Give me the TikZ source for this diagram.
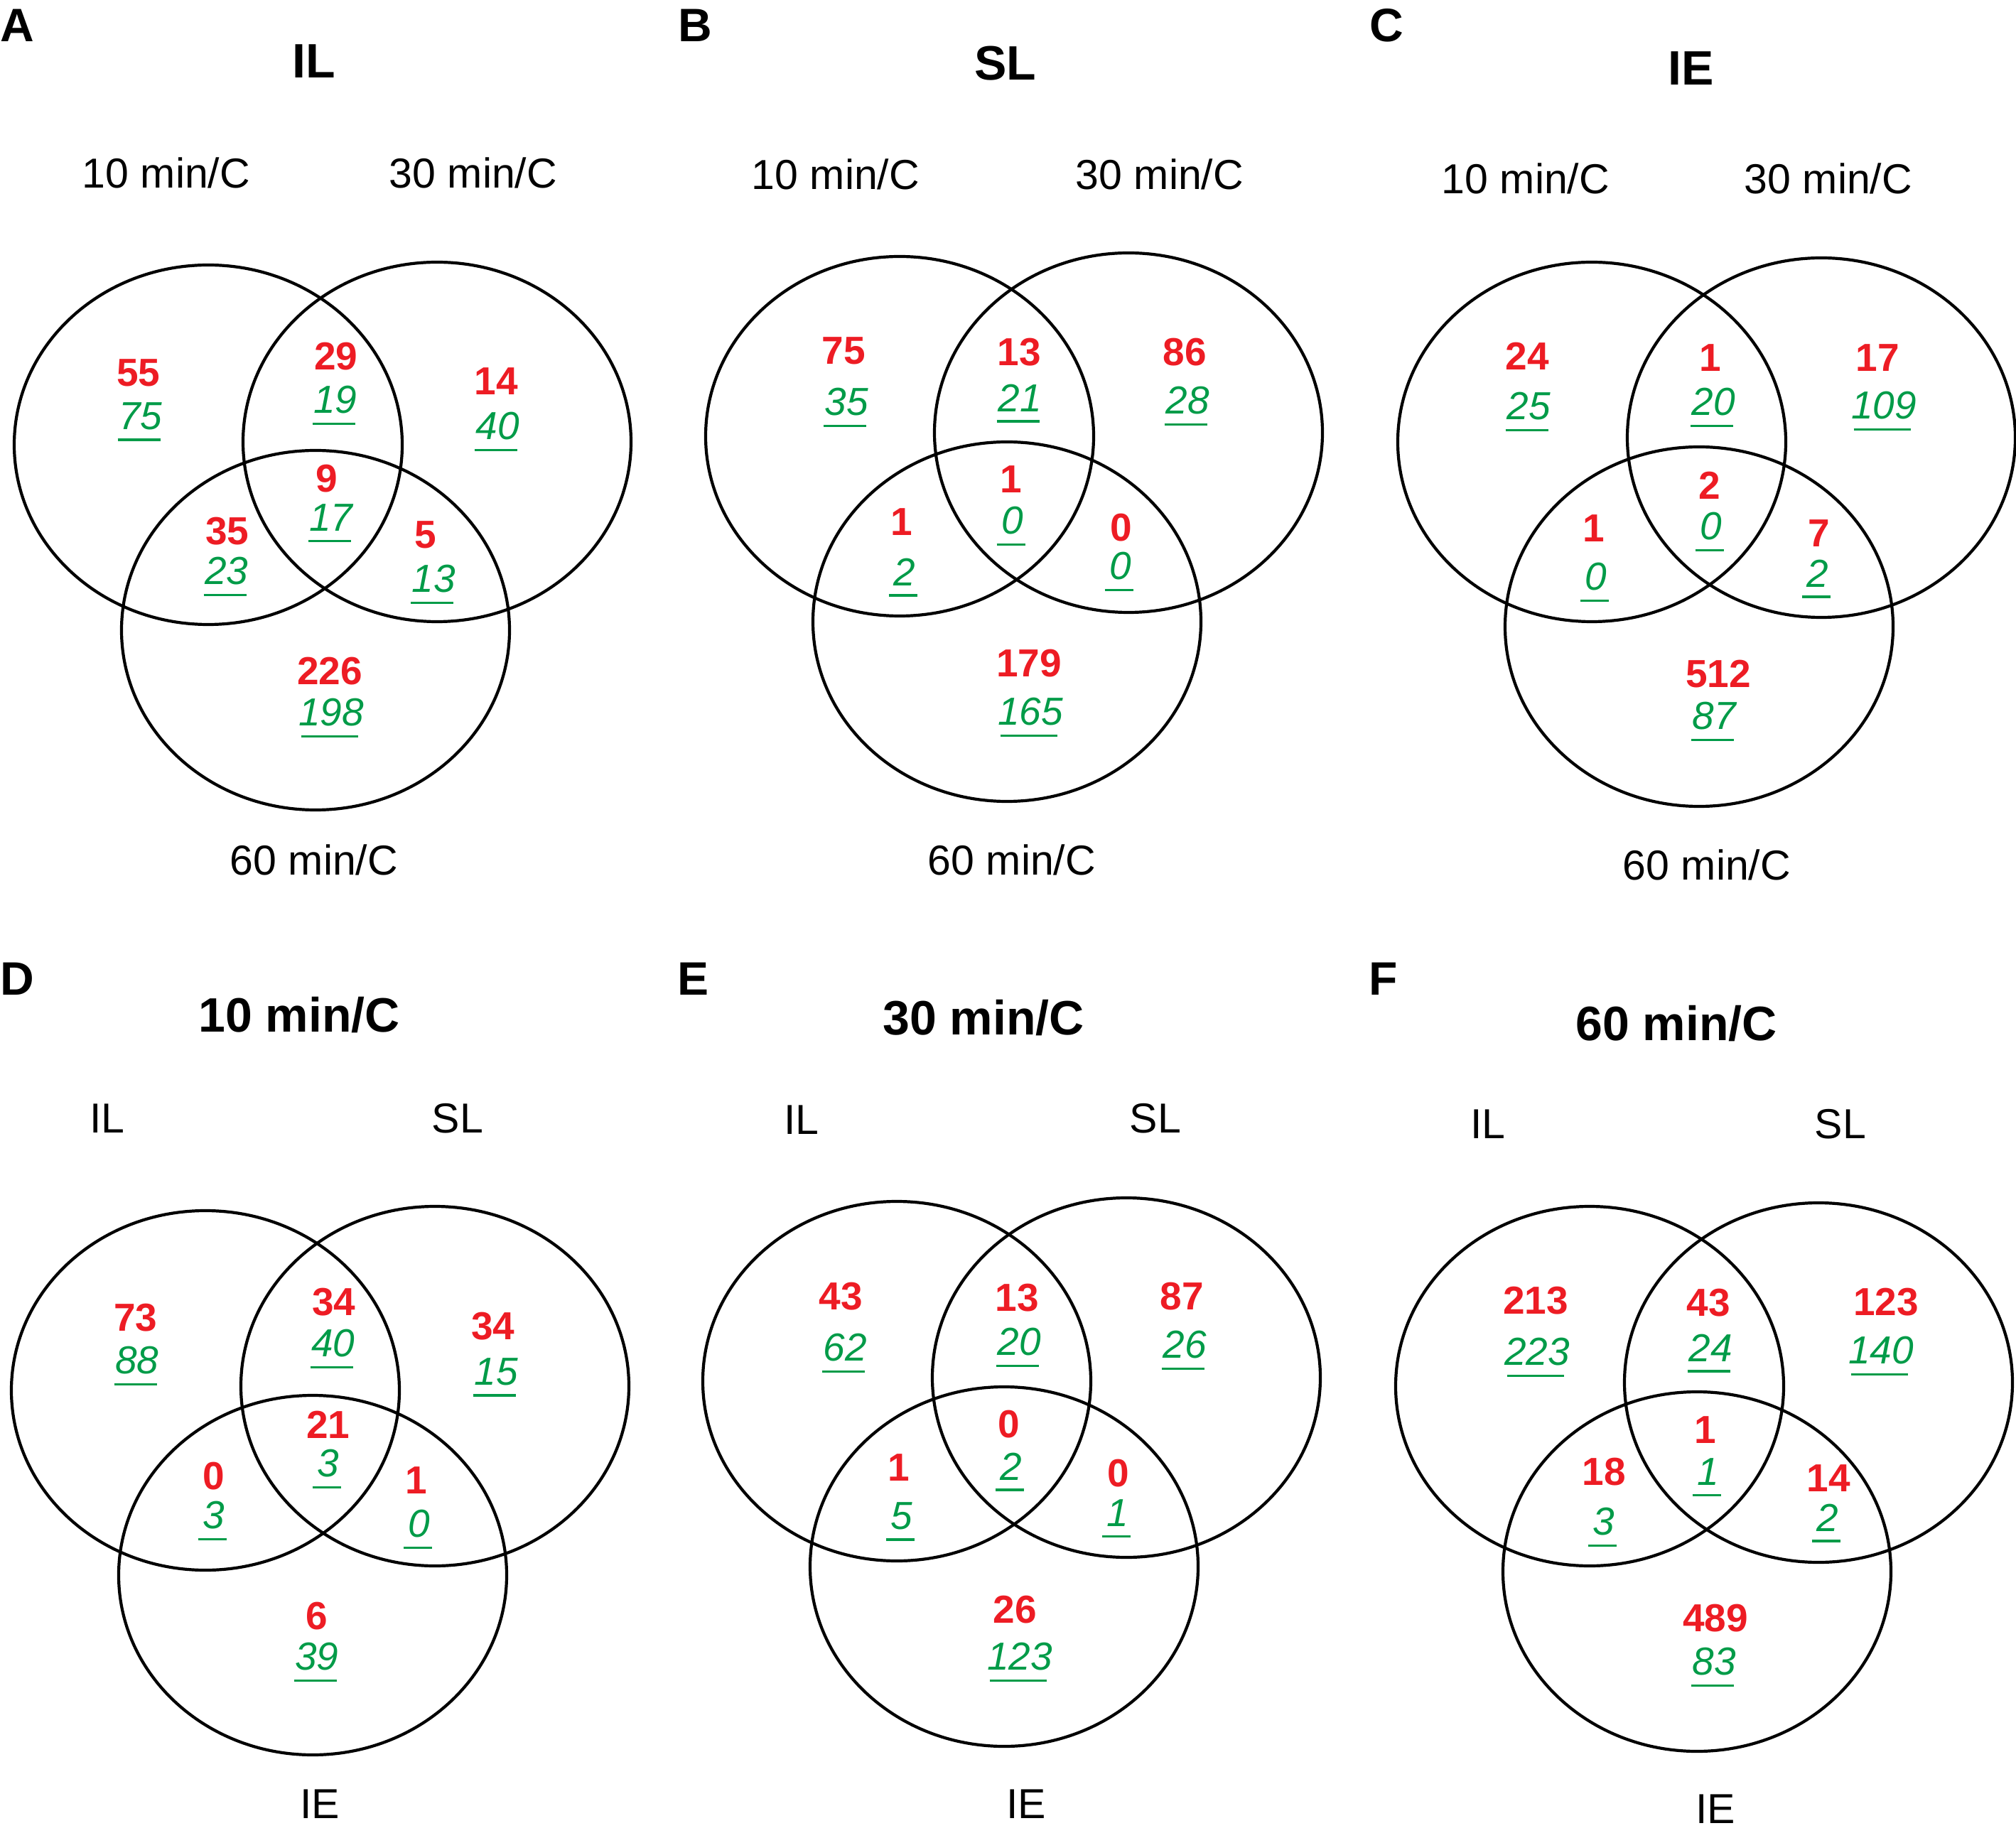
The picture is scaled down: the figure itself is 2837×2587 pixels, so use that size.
\documentclass[tikz,border=0pt]{standalone}
\usepackage{fontspec}
\setmainfont{Liberation Sans}
\usetikzlibrary{calc}
\definecolor{vred}{RGB}{237,28,36}
\definecolor{vgreen}{RGB}{0,155,72}
\tikzset{
  rnum/.style={inner sep=0pt, text=vred, font=\fontsize{13.75}{16}\selectfont\bfseries},
  gnum/.style={inner sep=0pt, text=vgreen, font=\fontsize{13.75}{16}\selectfont\itshape},
  lbl/.style={inner sep=0pt, font=\fontsize{14.75}{17}\selectfont},
  ttl/.style={inner sep=0pt, font=\fontsize{17}{20}\selectfont\bfseries},
  letter/.style={inner sep=0pt, anchor=west, font=\fontsize{16.5}{19}\selectfont\bfseries},
  venn/.style={line width=1.05pt, x radius=68.25pt, y radius=63.25pt},
  ul/.style={draw=vgreen, line width=0.85pt}
}
\newcommand\vnum[5]{%
  \node[rnum] (#1r) at (#2) {#3};
  \node[gnum] (#1g) at (#4) {#5};
  \draw[ul] let \p1=(#1g.west), \p2=(#1g.east), \p3=(#1g.south),
    \n1={0.325*(\x2-\x1)+2.5pt} in
    (\x3-\n1-0.5pt,\y3-3.25pt) -- (\x3+\n1-0.5pt,\y3-3.25pt);
}
\begin{document}
\begin{tikzpicture}[x=0.25pt, y=-0.25pt]
\useasboundingbox (0,0) rectangle (2837,2587);

% ---------- Panel A ----------
\node[letter] (lA) at (0,36) {A};
\node[ttl] (tA) at (442,86) {IL};
\node[lbl] (a1) at (234,243) {10 min/C};
\node[lbl] (a2) at (666,243) {30 min/C};
\node[lbl] (a3) at (442,1210) {60 min/C};
\draw[venn] (293,626) ellipse [];
\draw[venn] (615,622) ellipse [];
\draw[venn] (444,887) ellipse [];
\vnum{aL}{195,525}{55}{198,586}{75}
\vnum{aLR}{473,502}{29}{472,563}{19}
\vnum{aR}{698,537}{14}{700,600}{40}
\vnum{aLRB}{460,674}{9}{466,729}{17}
\vnum{aLB}{320,748}{35}{319,804}{23}
\vnum{aRB}{599,753}{5}{610,815}{13}
\vnum{aB}{464,945}{226}{466,1003}{198}

% ---------- Panel B ----------
\node[letter] (lB) at (954,36) {B};
\node[ttl] (tB) at (1415,89) {SL};
\node[lbl] (b1) at (1176,245) {10 min/C};
\node[lbl] (b2) at (1632,245) {30 min/C};
\node[lbl] (b3) at (1424,1210) {60 min/C};
\draw[venn] (1266,614) ellipse [];
\draw[venn] (1588,609) ellipse [];
\draw[venn] (1417,875) ellipse [];
\vnum{bL}{1187,494}{75}{1191,566}{35}
\vnum{bLR}{1434,496}{13}{1435,560}{21}
\vnum{bR}{1667,496}{86}{1671,564}{28}
\vnum{bLRB}{1423,675}{1}{1425,733}{0}
\vnum{bLB}{1269,735}{1}{1273,805}{2}
\vnum{bRB}{1578,743}{0}{1577,797}{0}
\vnum{bB}{1448,934}{179}{1450,1002}{165}

% ---------- Panel C ----------
\node[letter] (lC) at (1927,36) {C};
\node[ttl] (tC) at (2380,96) {IE};
\node[lbl] (c1) at (2147,251) {10 min/C};
\node[lbl] (c2) at (2573,251) {30 min/C};
\node[lbl] (c3) at (2402,1217) {60 min/C};
\draw[venn] (2240,622) ellipse [];
\draw[venn] (2563,616) ellipse [];
\draw[venn] (2391,882) ellipse [];
\vnum{cL}{2149,501}{24}{2151,572}{25}
\vnum{cLR}{2407,504}{1}{2411,566}{20}
\vnum{cR}{2642,504}{17}{2651,571}{109}
\vnum{cLRB}{2406,683}{2}{2408,741}{0}
\vnum{cLB}{2243,744}{1}{2246,812}{0}
\vnum{cRB}{2560,751}{7}{2558,807}{2}
\vnum{cB}{2418,949}{512}{2412,1008}{87}

% ---------- Panel D ----------
\node[letter] (lD) at (0,1378) {D};
\node[ttl] (tD) at (421,1429) {10 min/C};
\node[lbl] (d1) at (151,1574) {IL};
\node[lbl] (d2) at (644,1574) {SL};
\node[lbl] (d3) at (450,2539) {IE};
\draw[venn] (289,1957) ellipse [];
\draw[venn] (612,1951) ellipse [];
\draw[venn] (440,2217) ellipse [];
\vnum{dL}{191,1855}{73}{193,1915}{88}
\vnum{dLR}{470,1833}{34}{469,1891}{40}
\vnum{dR}{694,1867}{34}{698,1931}{15}
\vnum{dLRB}{462,2005}{21}{462,2060}{3}
\vnum{dLB}{301,2078}{0}{301,2133}{3}
\vnum{dRB}{586,2084}{1}{590,2145}{0}
\vnum{dB}{446,2275}{6}{446,2332}{39}

% ---------- Panel E ----------
\node[letter] (lE) at (953,1378) {E};
\node[ttl] (tE) at (1384,1433) {30 min/C};
\node[lbl] (e1) at (1128,1576) {IL};
\node[lbl] (e2) at (1626,1574) {SL};
\node[lbl] (e3) at (1444,2539) {IE};
\draw[venn] (1262,1944) ellipse [];
\draw[venn] (1585,1939) ellipse [];
\draw[venn] (1413,2205) ellipse [];
\vnum{eL}{1183,1825}{43}{1189,1897}{62}
\vnum{eLR}{1431,1827}{13}{1434,1889}{20}
\vnum{eR}{1663,1825}{87}{1667,1893}{26}
\vnum{eLRB}{1420,2005}{0}{1423,2064}{2}
\vnum{eLB}{1265,2066}{1}{1269,2134}{5}
\vnum{eRB}{1574,2074}{0}{1573,2130}{1}
\vnum{eB}{1428,2266}{26}{1435,2332}{123}

% ---------- Panel F ----------
\node[letter] (lF) at (1926,1378) {F};
\node[ttl] (tF) at (2359,1441) {60 min/C};
\node[lbl] (f1) at (2094,1582) {IL};
\node[lbl] (f2) at (2590,1582) {SL};
\node[lbl] (f3) at (2414,2546) {IE};
\draw[venn] (2237,1951) ellipse [];
\draw[venn] (2559,1946) ellipse [];
\draw[venn] (2388,2212) ellipse [];
\vnum{fL}{2161,1831}{213}{2163,1903}{223}
\vnum{fLR}{2404,1834}{43}{2407,1897}{24}
\vnum{fR}{2654,1833}{123}{2647,1901}{140}
\vnum{fLRB}{2400,2013}{1}{2404,2072}{1}
\vnum{fLB}{2257,2072}{18}{2257,2142}{3}
\vnum{fRB}{2573,2081}{14}{2572,2136}{2}
\vnum{fB}{2414,2278}{489}{2412,2339}{83}
\end{tikzpicture}
\end{document}
